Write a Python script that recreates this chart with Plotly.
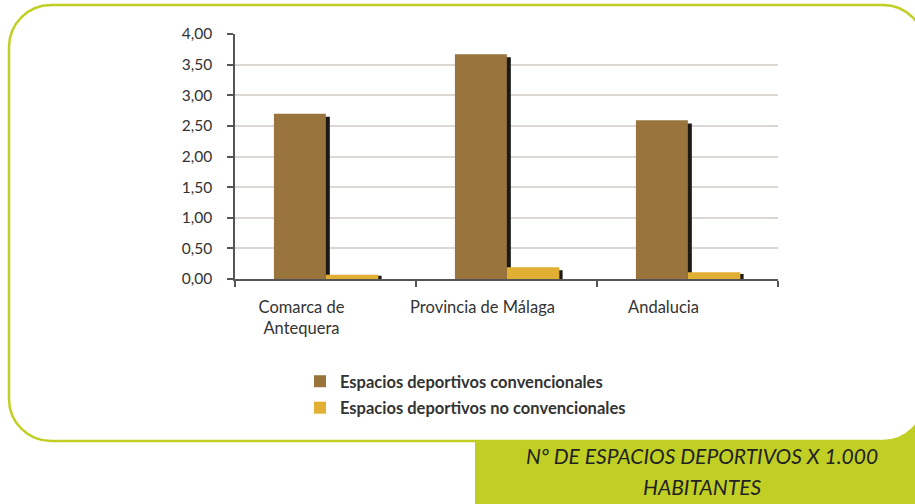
import plotly.graph_objects as go

categories = ["Comarca de<br>Antequera", "Provincia de Málaga", "Andalucia"]
convencionales = [2.70, 3.67, 2.59]
no_convencionales = [0.07, 0.19, 0.11]
series_names = ["Espacios deportivos convencionales", "Espacios deportivos no convencionales"]
y_tickvals = [0, 0.5, 1.0, 1.5, 2.0, 2.5, 3.0, 3.5, 4.0]
y_ticktext = ["0,00", "0,50", "1,00", "1,50", "2,00", "2,50", "3,00", "3,50", "4,00"]
caption_lines = ["Nº DE ESPACIOS DEPORTIVOS X 1.000", "HABITANTES"]

W, H = 915, 504
ML, MR, MT, MB = 235, 137, 34, 225
PW, PH = W - ML - MR, H - MT - MB

def px(x):
    return (x - ML) / PW

def py(y):
    return (H - MB - y) / PH

BROWN = "#99753d"
YELLOW = "#e2af35"
SHADOW = "#1c1a17"
GREEN = "#c1cf25"
TEXT = "#333333"
FONT = "Lato, sans-serif"

def shadow_vals(vals):
    return [v - min(0.05, v * 0.25) for v in vals]

fig = go.Figure()
fig.add_trace(go.Bar(x=categories, y=shadow_vals(convencionales), offset=-0.263, width=0.287,
                     marker=dict(color=SHADOW, line=dict(width=0)), showlegend=False, hoverinfo="skip"))
fig.add_trace(go.Bar(x=categories, y=convencionales, offset=-0.285, width=0.287, name=series_names[0],
                     legendgroup="a", marker=dict(color=BROWN, line=dict(width=0))))
fig.add_trace(go.Bar(x=categories, y=shadow_vals(no_convencionales), offset=0.02, width=0.29,
                     marker=dict(color=SHADOW, line=dict(width=0)), showlegend=False, hoverinfo="skip"))
fig.add_trace(go.Bar(x=categories, y=no_convencionales, offset=0.002, width=0.29, name=series_names[1],
                     legendgroup="b", marker=dict(color=YELLOW, line=dict(width=0))))

# rounded frame path
def frame_path(left, right, top, bottom, r):
    k = 0.5523 * r
    pts = []
    pts.append(f"M {px(left)},{py(top + r)}")
    pts.append(f"C {px(left)},{py(top + r - k)} {px(left + r - k)},{py(top)} {px(left + r)},{py(top)}")
    pts.append(f"L {px(right - r)},{py(top)}")
    pts.append(f"C {px(right - r + k)},{py(top)} {px(right)},{py(top + r - k)} {px(right)},{py(top + r)}")
    pts.append(f"L {px(right)},{py(bottom - r)}")
    pts.append(f"C {px(right)},{py(bottom - r + k)} {px(right - r + k)},{py(bottom)} {px(right - r)},{py(bottom)}")
    pts.append(f"L {px(left + r)},{py(bottom)}")
    pts.append(f"C {px(left + r - k)},{py(bottom)} {px(left)},{py(bottom - r + k)} {px(left)},{py(bottom - r)}")
    pts.append("Z")
    return " ".join(pts)

shapes = [
    dict(type="rect", xref="paper", yref="paper", x0=px(475), x1=px(940), y0=py(420), y1=py(520),
         fillcolor=GREEN, line=dict(width=0), layer="below"),
    dict(type="path", xref="paper", yref="paper", path=frame_path(9, 925, 5, 441, 42),
         fillcolor="white", line=dict(color=GREEN, width=2.5), layer="below"),
]

annotations = [
    dict(xref="paper", yref="paper", x=px(702), y=py(455), text=f"<i>{caption_lines[0]}</i>",
         showarrow=False, font=dict(family=FONT, size=21, color="#222222"), xanchor="center", yanchor="middle"),
    dict(xref="paper", yref="paper", x=px(702), y=py(486), text=f"<i>{caption_lines[1]}</i>",
         showarrow=False, font=dict(family=FONT, size=21, color="#222222"), xanchor="center", yanchor="middle"),
]

fig.update_layout(
    width=W, height=H,
    margin=dict(l=ML, r=MR, t=MT, b=MB, pad=0, autoexpand=False),
    paper_bgcolor="white", plot_bgcolor="white",
    barmode="overlay",
    font=dict(family=FONT, color=TEXT),
    shapes=shapes,
    annotations=annotations,
    legend=dict(x=px(300), y=py(364),
                xanchor="left", yanchor="top", traceorder="grouped", tracegroupgap=2,
                font=dict(family=FONT, size=16.5, color=TEXT, weight="bold"),
                bgcolor="rgba(0,0,0,0)", borderwidth=0),
    xaxis=dict(showline=True, linecolor="#555555", linewidth=1.5, ticks="outside", tickson="boundaries",
               ticklen=6, tickcolor="#555555", tickwidth=1.5, showgrid=False, tickangle=0,
               tickfont=dict(family=FONT, size=16.5, color=TEXT), ticklabelshift=-24, ticklabelstandoff=12),
    yaxis=dict(range=[0, 4], tickvals=y_tickvals, ticktext=y_ticktext, showline=True,
               linecolor="#555555", linewidth=1.5, ticks="outside", ticklen=6, tickcolor="#555555",
               tickwidth=1.5, showgrid=False, zeroline=False,
               tickfont=dict(family=FONT, size=15.5, color=TEXT), ticklabelstandoff=12,
               minor=dict(tickvals=y_tickvals[1:-1], showgrid=True, gridcolor="#dcd7d3", gridwidth=1.5, ticks="")),
)

fig.write_html("out.html", config={"displayModeBar": False},
               post_script="document.body.style.margin='0';document.body.style.overflow='hidden';")
